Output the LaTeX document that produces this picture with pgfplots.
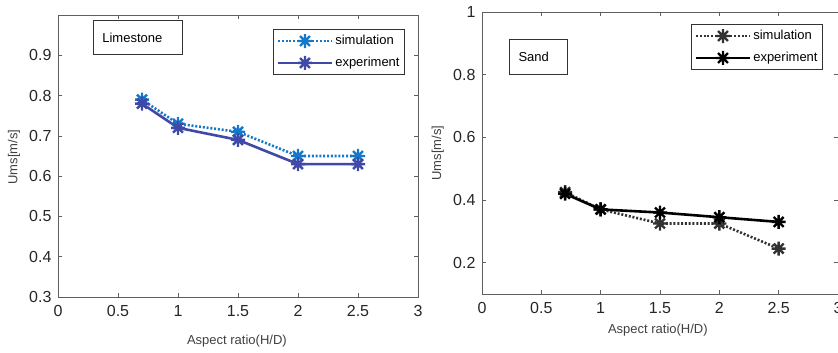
\documentclass[border=0pt]{standalone}
\usepackage{fontspec}
\setmainfont{Liberation Sans}
\usepackage{pgfplots}
\pgfplotsset{compat=1.18}
\definecolor{simblue}{RGB}{22,120,200}
\definecolor{expblue}{RGB}{64,72,168}
\definecolor{simgray}{RGB}{50,50,50}
\definecolor{axgray}{RGB}{95,95,95}

\pgfdeclareplotmark{mstar}{%
 \pgfpathmoveto{\pgfqpoint{0pt}{\pgfplotmarksize}}\pgfpathlineto{\pgfqpoint{0pt}{-\pgfplotmarksize}}%
 \pgfpathmoveto{\pgfqpoint{\pgfplotmarksize}{0pt}}\pgfpathlineto{\pgfqpoint{-\pgfplotmarksize}{0pt}}%
 \pgfpathmoveto{\pgfqpoint{0.7071\pgfplotmarksize}{0.7071\pgfplotmarksize}}\pgfpathlineto{\pgfqpoint{-0.7071\pgfplotmarksize}{-0.7071\pgfplotmarksize}}%
 \pgfpathmoveto{\pgfqpoint{-0.7071\pgfplotmarksize}{0.7071\pgfplotmarksize}}\pgfpathlineto{\pgfqpoint{0.7071\pgfplotmarksize}{-0.7071\pgfplotmarksize}}%
 \pgfusepathqstroke}

\pgfplotsset{
 matstyle/.style={
  scale only axis,
  xmin=0,xmax=3,
  xtick={0,0.5,1,1.5,2,2.5,3},
  tick align=inside,
  major tick length=4pt,
  tick style={axgray, line width=0.6pt},
  axis line style={axgray,line width=0.9pt},
  ticklabel style={font=\fontsize{16}{16}\selectfont, black!85},
  xticklabel style={yshift=-5pt},
  yticklabel style={xshift=-3pt},
  /pgf/number format/assume math mode=true,
  label style={font=\fontsize{13}{13}\selectfont, black!75},
  legend cell align=left,
  legend style={font=\fontsize{13}{13}\selectfont, draw=black!80, line width=0.9pt,
     inner xsep=3pt, inner ysep=4pt, row sep=7pt, nodes={inner sep=2pt}},
  legend image code/.code={\draw[mark repeat=2,mark phase=2] plot coordinates {(0pt,0pt) (27pt,0pt) (54pt,0pt)};},
  simstyle/.style={line width=2.6pt, dash pattern=on 2pt off 1.8pt, mark=mstar, mark size=7pt, mark options={solid, line width=2.4pt}},
  expstyle/.style={line width=2.6pt, mark=mstar, mark size=7pt, mark options={solid, line width=2.4pt}},
 }
}

\begin{document}
\begin{tikzpicture}
\begin{axis}[matstyle,
  at={(58pt,56pt)}, anchor=south west,
  width=360pt, height=282pt,
  ymin=0.3, ymax=1.0,
  ytick={0.3,0.4,0.5,0.6,0.7,0.8,0.9},
  xlabel={Aspect ratio(H/D)}, ylabel={Ums[m/s]},
  xlabel style={at={(axis description cs:0.497,-0.156)}, anchor=center},
  ylabel style={at={(axis description cs:-0.122,0.496)}, anchor=center},
  legend style={at={(axis description cs:0.964,0.950)}, anchor=north east},
]
\addplot[simstyle, color=simblue] coordinates {(0.7,0.79) (1,0.73) (1.5,0.71) (2,0.65) (2.5,0.65)};
\addlegendentry{simulation}
\addplot[expstyle, color=expblue] coordinates {(0.7,0.78) (1,0.72) (1.5,0.69) (2,0.63) (2.5,0.63)};
\addlegendentry{experiment}
\node[draw=black!80, line width=0.9pt, anchor=north west, text width=71pt, minimum height=34pt,
  inner xsep=9pt, align=left, font=\fontsize{13}{13}\selectfont] at (axis description cs:0.097,0.982) {Limestone};
\end{axis}

\begin{axis}[matstyle,
  at={(482pt,59pt)}, anchor=south west,
  width=356pt, height=282pt,
  ymin=0.1, ymax=1.0,
  ytick={0.2,0.4,0.6,0.8,1},
  xlabel={Aspect ratio(H/D)}, ylabel={Ums[m/s]},
  xlabel style={at={(axis description cs:0.494,-0.128)}, anchor=center},
  ylabel style={at={(axis description cs:-0.124,0.5)}, anchor=center},
  legend style={at={(axis description cs:0.958,0.957)}, anchor=north east},
]
\addplot[simstyle, color=simgray] coordinates {(0.7,0.425) (1,0.37) (1.5,0.325) (2,0.325) (2.5,0.245)};
\addlegendentry{simulation}
\addplot[expstyle, color=black] coordinates {(0.7,0.42) (1,0.37) (1.5,0.36) (2,0.345) (2.5,0.33)};
\addlegendentry{experiment}
\node[draw=black!80, line width=0.9pt, anchor=north west, text width=40pt, minimum height=35pt,
  inner xsep=9pt, align=left, font=\fontsize{13}{13}\selectfont] at (axis description cs:0.076,0.904) {Sand};
\end{axis}
\pgfresetboundingbox
\useasboundingbox (0pt,0pt) rectangle (838pt,353pt);
\end{tikzpicture}
\end{document}
